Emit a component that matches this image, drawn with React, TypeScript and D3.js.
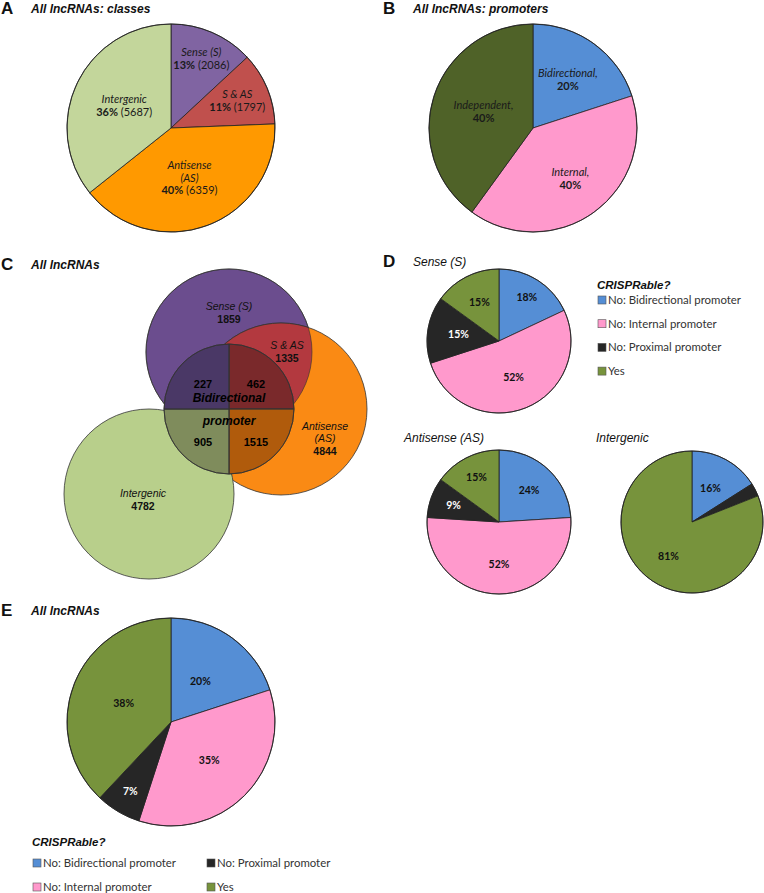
import React from "react";
import * as d3 from "d3";

// ---------- DATA ----------
const classNames = ["Sense (S)", "S & AS", "Antisense (AS)", "Intergenic"];
const classCounts = [2086, 1797, 6359, 5687];
const classPercents = [13, 11, 40, 36];

const promoterNames = ["Bidirectional,", "Internal,", "Independent,"];
const promoterPercents = [20, 40, 40];

const vennSetNames = ["Sense (S)", "S & AS", "Antisense (AS)", "Intergenic"];
const vennSetCounts = [1859, 1335, 4844, 4782];
const bidirQuadrantCounts = [462, 1515, 905, 227]; // TR, BR, BL, TL

const crisprCategories = [
  "No: Bidirectional promoter",
  "No: Internal promoter",
  "No: Proximal promoter",
  "Yes",
];
const senseCrispr = [18, 52, 15, 15];
const antisenseCrispr = [24, 52, 9, 15];
const intergenicCrispr = [16, 0, 3, 81];
const allCrispr = [20, 35, 7, 38];

// ---------- STYLE ----------
const classColors = ["#8064A2", "#C0504D", "#FF9900", "#C3D69B"];
const promoterColors = ["#558ED5", "#FF99CC", "#4F6228"];
const crisprColors = ["#558ED5", "#FF99CC", "#262626", "#77933C"];
const crisprTextColors = ["#111", "#111", "#fff", "#111"];

const CAL = "Lato, 'Open Sans', sans-serif";
const ARIAL = "'Liberation Sans', Arial, sans-serif";

const pieGen = d3
  .pie<number>()
  .sort(null)
  .value((d) => d);

function labelPos(d: any, r: number, f: number) {
  const a = (d.startAngle + d.endAngle) / 2;
  return [Math.sin(a) * r * f, -Math.cos(a) * r * f];
}

function Pie({
  cx,
  cy,
  r,
  values,
  colors,
  children,
}: {
  cx: number;
  cy: number;
  r: number;
  values: number[];
  colors: string[];
  children?: (arcs: any[]) => React.ReactNode;
}) {
  const arcs = pieGen(values);
  const arc = d3.arc<any>().innerRadius(0).outerRadius(r);
  return (
    <g transform={`translate(${cx},${cy})`}>
      {arcs.map((a, i) =>
        a.endAngle - a.startAngle > 0 ? (
          <path
            key={i}
            d={arc(a) || ""}
            fill={colors[i]}
            stroke="#222"
            strokeWidth={0.8}
          />
        ) : null
      )}
      <circle r={r} fill="none" stroke="#222" strokeWidth={0.8} />
      {children && children(arcs)}
    </g>
  );
}

function CrisprPie({
  cx,
  cy,
  r,
  values,
  factors,
  fontSize,
}: {
  cx: number;
  cy: number;
  r: number;
  values: number[];
  factors: number[];
  fontSize: number;
}) {
  return (
    <Pie cx={cx} cy={cy} r={r} values={values} colors={crisprColors}>
      {(arcs) =>
        arcs.map((a, i) => {
          if (values[i] < 5) return null;
          const [x, y] = labelPos(a, r, factors[i]);
          return (
            <text
              key={i}
              x={x}
              y={y + fontSize * 0.35}
              textAnchor="middle"
              fontFamily={CAL}
              fontWeight={700}
              fontSize={fontSize}
              fill={crisprTextColors[i]}
            >
              {values[i]}%
            </text>
          );
        })
      }
    </Pie>
  );
}

function PanelTitle({ x, y, letter, title, italicOnly }: any) {
  return (
    <g>
      <text
        x={x}
        y={y + 1}
        fontFamily={ARIAL}
        fontWeight="bold"
        fontSize={17}
        fill="#111"
      >
        {letter}
      </text>
      <text
        x={x + 30}
        y={y}
        fontFamily={ARIAL}
        fontWeight={italicOnly ? "normal" : "bold"}
        fontStyle="italic"
        fontSize={12}
        fill="#111"
      >
        {title}
      </text>
    </g>
  );
}

export default function App() {
  // Panel A label radial factors
  const aFactors = [0.73, 0.69, 0.51, 0.5];
  const bFactors = [0.57, 0.61, 0.5];

  // Venn layout
  const senseC = { x: 229, y: 352, r: 83 };
  const antiC = { x: 281, y: 409, r: 86 };
  const interC = { x: 149, y: 494, r: 85 };
  const bidC = { x: 229, y: 409, r: 65 };
  const quadColors = ["#7A292B", "#B05B0C", "#7F8C5C", "#4A3866"];
  const quadArc = d3.arc<any>().innerRadius(0).outerRadius(bidC.r);
  const quads = [0, 1, 2, 3].map((i) => ({
    startAngle: (i * Math.PI) / 2,
    endAngle: ((i + 1) * Math.PI) / 2,
  }));
  const quadLabelPos = [
    [256, 388],
    [256, 446],
    [203, 446],
    [203, 388],
  ];

  const legendFont = 11.4;

  return (
    <svg
      width={764}
      height={893}
      style={{ position: "absolute", left: 0, top: 0, background: "#fff" }}
    >
      <rect width={764} height={893} fill="#fff" />
      <defs>
        <clipPath id="senseClip">
          <circle cx={senseC.x} cy={senseC.y} r={senseC.r} />
        </clipPath>
      </defs>

      {/* ---------- Panel A ---------- */}
      <PanelTitle x={1} y={13} letter="A" title="All lncRNAs: classes" />
      <Pie cx={171} cy={128} r={104} values={classCounts} colors={classColors}>
        {(arcs) =>
          arcs.map((a, i) => {
            const [x, y] = labelPos(a, 104, aFactors[i]);
            const nameLines =
              i === 2 ? ["Antisense", "(AS)"] : [classNames[i]];
            const lh = 12.8;
            const total = nameLines.length + 1;
            const y0 = y - ((total - 1) * lh) / 2 + 3.8;
            return (
              <g key={i} fontFamily={CAL} fontSize={11} fill="#1a1a1a">
                {nameLines.map((t, k) => (
                  <text
                    key={k}
                    x={x}
                    y={y0 + k * lh}
                    textAnchor="middle"
                    fontStyle="italic"
                  >
                    {t}
                  </text>
                ))}
                <text x={x} y={y0 + nameLines.length * lh} textAnchor="middle">
                  <tspan fontWeight={700}>{classPercents[i]}%</tspan>
                  <tspan> ({classCounts[i]})</tspan>
                </text>
              </g>
            );
          })
        }
      </Pie>

      {/* ---------- Panel B ---------- */}
      <PanelTitle x={383} y={13} letter="B" title="All lncRNAs: promoters" />
      <Pie
        cx={533}
        cy={128}
        r={104}
        values={promoterPercents}
        colors={promoterColors}
      >
        {(arcs) =>
          arcs.map((a, i) => {
            const [x, y] = labelPos(a, 104, bFactors[i]);
            return (
              <g key={i} fontFamily={CAL} fontSize={11} fill="#1a1a1a">
                <text x={x} y={y - 3} textAnchor="middle" fontStyle="italic">
                  {promoterNames[i]}
                </text>
                <text x={x} y={y + 10} textAnchor="middle" fontWeight={700}>
                  {promoterPercents[i]}%
                </text>
              </g>
            );
          })
        }
      </Pie>

      {/* ---------- Panel C ---------- */}
      <PanelTitle x={1} y={269} letter="C" title="All lncRNAs" />
      <g stroke="#333" strokeWidth={0.8}>
        <circle cx={senseC.x} cy={senseC.y} r={senseC.r} fill="#6B4D8E" />
        <circle cx={antiC.x} cy={antiC.y} r={antiC.r} fill="#FA8A14" />
        <circle
          cx={antiC.x}
          cy={antiC.y}
          r={antiC.r}
          fill="#B3393F"
          clipPath="url(#senseClip)"
        />
        <circle
          cx={senseC.x}
          cy={senseC.y}
          r={senseC.r}
          fill="none"
          strokeWidth={0.6}
        />
        <circle cx={interC.x} cy={interC.y} r={interC.r} fill="#B8CF8B" />
        <g transform={`translate(${bidC.x},${bidC.y})`}>
          {quads.map((q, i) => (
            <path key={i} d={quadArc(q) || ""} fill={quadColors[i]} />
          ))}
          <line x1={0} y1={-bidC.r} x2={0} y2={bidC.r} />
          <line x1={-bidC.r} y1={0} x2={bidC.r} y2={0} />
          <circle r={bidC.r} fill="none" />
        </g>
      </g>
      <g fontFamily={ARIAL} fontSize={10.5} fill="#111" textAnchor="middle">
        <text x={229} y={310} fontStyle="italic">
          {vennSetNames[0]}
        </text>
        <text x={229} y={323} fontWeight={700}>
          {vennSetCounts[0]}
        </text>
        <text x={287} y={349} fontStyle="italic">
          {vennSetNames[1]}
        </text>
        <text x={287} y={362} fontWeight={700}>
          {vennSetCounts[1]}
        </text>
        <text x={325} y={430} fontStyle="italic">
          Antisense
        </text>
        <text x={325} y={442} fontStyle="italic">
          (AS)
        </text>
        <text x={325} y={455} fontWeight={700}>
          {vennSetCounts[2]}
        </text>
        <text x={143} y={497} fontStyle="italic">
          {vennSetNames[3]}
        </text>
        <text x={143} y={510} fontWeight={700}>
          {vennSetCounts[3]}
        </text>
        {bidirQuadrantCounts.map((v, i) => (
          <text
            key={i}
            x={quadLabelPos[i][0]}
            y={quadLabelPos[i][1]}
            fontWeight={700}
            fontSize={11}
            fill="#000"
          >
            {v}
          </text>
        ))}
        <text
          x={229}
          y={402}
          fontWeight={700}
          fontStyle="italic"
          fontSize={12}
          fill="#000"
        >
          Bidirectional
        </text>
        <text
          x={229}
          y={425}
          fontWeight={700}
          fontStyle="italic"
          fontSize={12}
          fill="#000"
        >
          promoter
        </text>
      </g>

      {/* ---------- Panel D ---------- */}
      <PanelTitle x={383} y={266} letter="D" title="Sense (S)" italicOnly />
      <CrisprPie
        cx={499}
        cy={341}
        r={72}
        values={senseCrispr}
        factors={[0.72, 0.55, 0.57, 0.6]}
        fontSize={10.5}
      />
      <text
        x={404}
        y={442}
        fontFamily={ARIAL}
        fontStyle="italic"
        fontSize={12}
        fill="#111"
      >
        Antisense (AS)
      </text>
      <CrisprPie
        cx={499}
        cy={522}
        r={72}
        values={antisenseCrispr}
        factors={[0.61, 0.59, 0.67, 0.69]}
        fontSize={10.5}
      />
      <text
        x={596}
        y={442}
        fontFamily={ARIAL}
        fontStyle="italic"
        fontSize={12}
        fill="#111"
      >
        Intergenic
      </text>
      <CrisprPie
        cx={692}
        cy={522}
        r={71}
        values={intergenicCrispr}
        factors={[0.54, 0.59, 0.6, 0.59]}
        fontSize={10.5}
      />
      {/* legend D */}
      <text
        x={597}
        y={289}
        fontFamily={ARIAL}
        fontWeight="bold"
        fontStyle="italic"
        fontSize={11.5}
        fill="#111"
      >
        CRISPRable?
      </text>
      {crisprCategories.map((c, i) => (
        <g key={i} transform={`translate(598,${300 + i * 23.7})`}>
          <rect
            x={0}
            y={-4}
            width={8}
            height={8}
            fill={crisprColors[i]}
            stroke="#555"
            strokeWidth={0.6}
          />
          <text
            x={10}
            y={4}
            fontFamily={CAL}
            fontSize={legendFont}
            fill="#333"
          >
            {c}
          </text>
        </g>
      ))}

      {/* ---------- Panel E ---------- */}
      <PanelTitle x={1} y={615} letter="E" title="All lncRNAs" />
      <CrisprPie
        cx={171}
        cy={722}
        r={104}
        values={allCrispr}
        factors={[0.48, 0.52, 0.77, 0.49]}
        fontSize={10.5}
      />
      <text
        x={32}
        y={846}
        fontFamily={ARIAL}
        fontWeight="bold"
        fontStyle="italic"
        fontSize={11.5}
        fill="#111"
      >
        CRISPRable?
      </text>
      {crisprCategories.map((c, i) => {
        const col = i === 0 || i === 1 ? 0 : 1;
        const row = i === 0 || i === 2 ? 0 : 1;
        const x = col === 0 ? 33 : 207;
        const y = row === 0 ? 863 : 887;
        return (
          <g key={i} transform={`translate(${x},${y})`}>
            <rect
              x={0}
              y={-4}
              width={8}
              height={8}
              fill={crisprColors[i]}
              stroke="#555"
              strokeWidth={0.6}
            />
            <text
              x={10}
              y={4}
              fontFamily={CAL}
              fontSize={legendFont}
              fill="#333"
            >
              {c}
            </text>
          </g>
        );
      })}
    </svg>
  );
}
